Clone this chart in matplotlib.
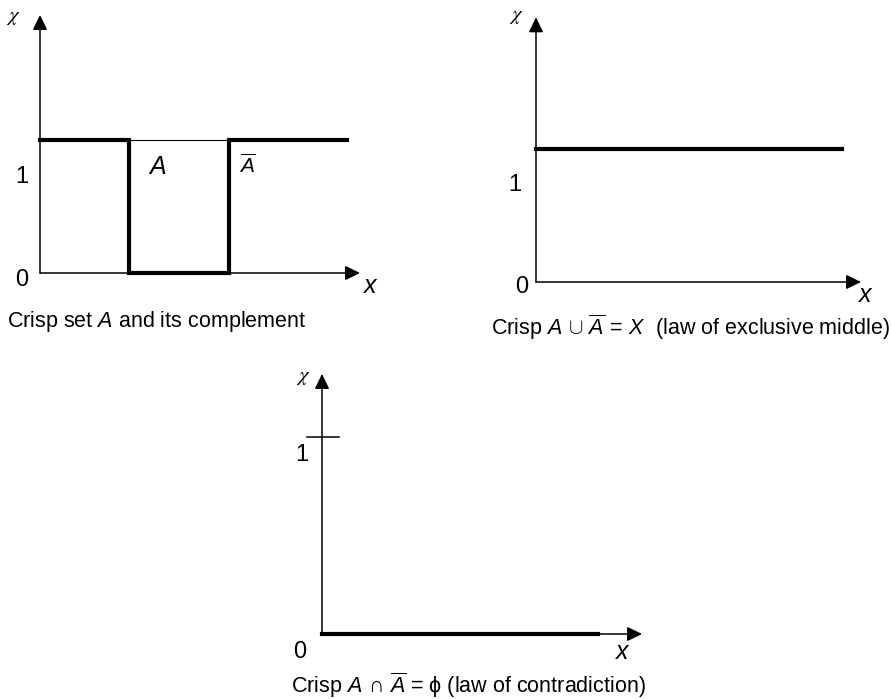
import matplotlib.pyplot as plt

plt.rcParams['font.family'] = ['Liberation Sans', 'DejaVu Sans']
plt.rcParams['mathtext.fontset'] = 'custom'
plt.rcParams['mathtext.rm'] = 'Liberation Sans'
plt.rcParams['mathtext.it'] = 'Liberation Sans:italic'

# panel 1: crisp set A and its complement (x in arbitrary units, chi in 0/1)
comp_x = [0, 8.9, 8.9, 18.9, 18.9, 30.7]
comp_chi = [1, 1, 0, 0, 1, 1]
setA_x = [8.9, 18.9]
setA_chi = [1, 1]

# panel 2: union = X
union_x = [0, 30.6]
union_chi = [1, 1]

# panel 3: intersection = empty
inter_x = [0, 27.6]
inter_chi = [0, 0]

captions = [r"Crisp set $A$ and its complement",
            r"Crisp $A\,\cup\,\overline{A}\,=\,X$  (law of exclusive middle)",
            r"Crisp $A\,\cap\,\overline{A}$ = ϕ (law of contradiction)"]

W, H = 892, 699
fig = plt.figure(figsize=(W / 100, H / 100), dpi=100)


def make_axes(ox, oy, sx, sy, xmin, xmax, ymin, ymax):
    # origin given in pixels (from top-left), sx/sy pixels per data unit
    left = (ox + xmin * sx) / W
    bottom = (H - oy + ymin * sy) / H
    ax = fig.add_axes([left, bottom, (xmax - xmin) * sx / W, (ymax - ymin) * sy / H])
    ax.set_xlim(xmin, xmax)
    ax.set_ylim(ymin, ymax)
    ax.axis('off')
    return ax


def draw_frame(ax, xtip, ytip):
    ap = dict(arrowstyle='-|>,head_length=0.45,head_width=0.22', lw=1.1, color='black',
              shrinkA=0, shrinkB=0, mutation_scale=20)
    ax.annotate('', xy=(xtip, 0), xytext=(0, 0), arrowprops=ap, annotation_clip=False)
    ax.annotate('', xy=(0, ytip), xytext=(0, 0), arrowprops=ap, annotation_clip=False)


def labels(ax, one, zero, xlab, chi):
    ax.text(one[0], one[1], '1', fontsize=17, ha='center', va='center')
    ax.text(zero[0], zero[1], '0', fontsize=17, ha='center', va='center')
    ax.text(xlab[0], xlab[1], 'x', fontsize=18, style='italic', ha='center', va='center')
    ax.text(chi[0], chi[1], r'$\chi$', fontsize=15, ha='center', va='center',
            math_fontfamily='stix')


thick = 3.0

# panel 1
ax1 = make_axes(40, 273, 10, 133, -4, 34, -0.2, 2.0)
draw_frame(ax1, 32.0, 1.94)
ax1.plot(setA_x, setA_chi, color='black', lw=0.8)
ax1.plot(comp_x, comp_chi, color='black', lw=thick, solid_joinstyle='miter')
ax1.text(11.7, 0.8, '$A$', fontsize=18, ha='center', va='center')
ax1.text(20.7, 0.81, r'$\overline{A}$', fontsize=15, ha='center', va='center')
labels(ax1, (-1.8, 0.72), (-1.8, -0.05), (33.0, -0.1), (-2.7, 1.92))

# panel 2
ax2 = make_axes(536, 282, 10, 133, -4, 34, -0.2, 2.05)
draw_frame(ax2, 32.5, 1.99)
ax2.plot(union_x, union_chi, color='black', lw=thick)
labels(ax2, (-2.1, 0.73), (-1.4, -0.04), (32.9, -0.1), (-2.0, 2.0))

# panel 3
ax3 = make_axes(322, 634, 10, 197, -4, 34, -0.15, 1.4)
draw_frame(ax3, 32.0, 1.32)
ax3.plot(inter_x, inter_chi, color='black', lw=thick)
ax3.plot([-1.5, 1.7], [1, 1], color='black', lw=1.1)
labels(ax3, (-2.0, 0.91), (-2.2, -0.09), (30.0, -0.09), (-1.9, 1.3))

# captions
fig.text(157 / W, 1 - 322 / H, captions[0], fontsize=15.5, ha='center', va='center')
fig.text(691 / W, 1 - 327 / H, captions[1], fontsize=15.5, ha='center', va='center')
fig.text(468 / W, 1 - 685 / H, captions[2], fontsize=15.5, ha='center', va='center')

fig.savefig('out.png', dpi=100)
